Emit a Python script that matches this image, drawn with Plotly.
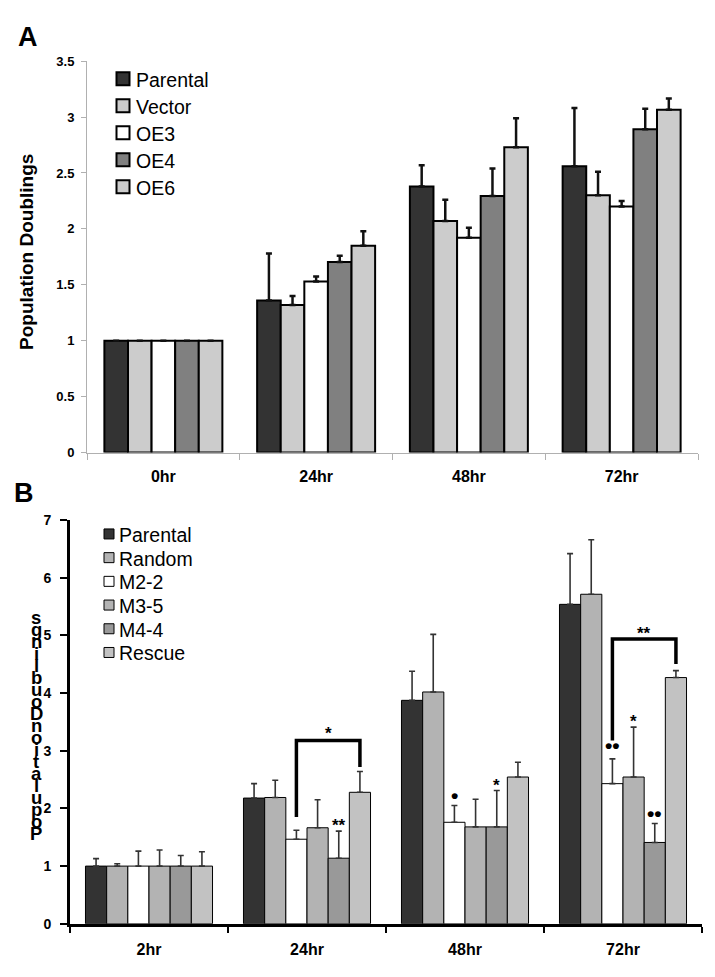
import plotly.graph_objects as go

# ---------------- Panel A data ----------------
times_a = ["0hr", "24hr", "48hr", "72hr"]
series_a = ["Parental", "Vector", "OE3", "OE4", "OE6"]
a_parental = [1.0, 1.36, 2.38, 2.56]
a_vector = [1.0, 1.32, 2.07, 2.30]
a_oe3 = [1.0, 1.53, 1.92, 2.20]
a_oe4 = [1.0, 1.705, 2.295, 2.89]
a_oe6 = [1.0, 1.85, 2.73, 3.066]
a_parental_err = [None, 0.42, 0.19, 0.52]
a_vector_err = [None, 0.08, 0.19, 0.21]
a_oe3_err = [None, 0.045, 0.09, 0.05]
a_oe4_err = [None, 0.055, 0.245, 0.185]
a_oe6_err = [None, 0.13, 0.26, 0.10]
colors_a = ["#333333", "#cccccc", "#ffffff", "#808080", "#cccccc"]

# ---------------- Panel B data ----------------
times_b = ["2hr", "24hr", "48hr", "72hr"]
series_b = ["Parental", "Random", "M2-2", "M3-5", "M4-4", "Rescue"]
b_parental = [1.0, 2.18, 3.875, 5.54]
b_random = [1.0, 2.19, 4.02, 5.715]
b_m22 = [1.0, 1.466, 1.76, 2.43]
b_m35 = [1.0, 1.665, 1.68, 2.545]
b_m44 = [1.0, 1.137, 1.68, 1.41]
b_rescue = [1.0, 2.28, 2.545, 4.27]
b_parental_err = [0.13, 0.25, 0.505, 0.88]
b_random_err = [0.04, 0.30, 1.0, 0.945]
b_m22_err = [0.26, 0.155, 0.29, 0.43]
b_m35_err = [0.28, 0.485, 0.48, 0.865]
b_m44_err = [0.185, 0.47, 0.63, 0.33]
b_rescue_err = [0.25, 0.36, 0.255, 0.12]
colors_b = ["#333333", "#b3b3b3", "#ffffff", "#b3b3b3", "#999999", "#c2c2c2"]

# significance brackets: (time index, from series, to series, left foot, top, right foot, label, label y)
brackets_b = [
    (1, 2, 5, 1.85, 3.18, 2.72, "*", 3.37),
    (3, 2, 5, 3.18, 4.94, 4.505, "**", 5.10),
]
# markers over bars: (time index, series index, y, text)
marks_b = [
    (1, 4, 1.78, "**"),
    (2, 2, 2.22, "\u2022"),
    (2, 4, 2.47, "*"),
    (3, 2, 3.085, "\u2022\u2022"),
    (3, 3, 3.57, "*"),
    (3, 4, 1.91, "\u2022\u2022"),
]

ytitle = "Population Doublings"

W, H = 715, 977
FONT = "Arial, Liberation Sans, sans-serif"


def px(x):
    return x / W


def py(y):
    return 1 - y / H


fig = go.Figure()

# Panel A bars
vals_a = [a_parental, a_vector, a_oe3, a_oe4, a_oe6]
errs_a = [a_parental_err, a_vector_err, a_oe3_err, a_oe4_err, a_oe6_err]
wa = 0.1545
off_a = -wa * len(series_a) / 2
for j, name in enumerate(series_a):
    fig.add_trace(go.Bar(
        x=times_a, y=vals_a[j], name=name, xaxis="x", yaxis="y",
        width=wa, offset=off_a + j * wa,
        marker=dict(color=colors_a[j], line=dict(color="#000000", width=2)),
        error_y=dict(type="data", array=errs_a[j], symmetric=False,
                     arrayminus=[0] * 4, color="#111111", thickness=2.5, width=3),
        showlegend=False, hoverinfo="skip",
    ))

# Panel B bars
vals_b = [b_parental, b_random, b_m22, b_m35, b_m44, b_rescue]
errs_b = [b_parental_err, b_random_err, b_m22_err, b_m35_err, b_m44_err, b_rescue_err]
wb = 0.134
off_b = -wb * len(series_b) / 2
for j, name in enumerate(series_b):
    fig.add_trace(go.Bar(
        x=times_b, y=vals_b[j], name=name, xaxis="x2", yaxis="y2",
        width=wb, offset=off_b + j * wb,
        marker=dict(color=colors_b[j], line=dict(color="#000000", width=1)),
        error_y=dict(type="data", array=errs_b[j], symmetric=False,
                     arrayminus=[0] * 4, color="#333333", thickness=1.6, width=3),
        showlegend=False, hoverinfo="skip",
    ))

shapes = []
annotations = []

# brackets
for (ti, s0, s1, yl, yt, yr, lab, ly) in brackets_b:
    x0 = ti + off_b + (s0 + 0.5) * wb
    x1 = ti + off_b + (s1 + 0.5) * wb
    shapes.append(dict(type="path", xref="x2", yref="y2",
                       path=f"M {x0},{yl} L {x0},{yt} L {x1},{yt} L {x1},{yr}",
                       line=dict(color="#000000", width=3.5)))
    annotations.append(dict(x=(x0 + x1) / 2, y=ly, xref="x2", yref="y2", text=lab,
                            showarrow=False, yshift=-4, yanchor="middle",
                            font=dict(family=FONT, size=17, color="#000000", weight="bold")))

for (ti, sj, yv, lab) in marks_b:
    xc = ti + off_b + (sj + 0.5) * wb
    star = "*" in lab
    annotations.append(dict(x=xc, y=yv, xref="x2", yref="y2", text=lab, showarrow=False,
                            yshift=(-4 if star else 0), yanchor="middle",
                            font=dict(family=FONT, size=(17 if star else 21),
                                      color="#000000", weight="bold")))

# Legend A (manual)
for j, name in enumerate(series_a):
    yc = 72 + j * 27.4
    shapes.append(dict(type="rect", xref="paper", yref="paper",
                       xsizemode="pixel", ysizemode="pixel",
                       xanchor=px(123), yanchor=py(yc), x0=-6.5, x1=6.5, y0=-6.5, y1=6.5,
                       fillcolor=colors_a[j], line=dict(color="#000000", width=2)))
    annotations.append(dict(x=px(134), y=py(yc + 1), xref="paper", yref="paper", text=name,
                            showarrow=False, xanchor="left", yanchor="middle",
                            font=dict(family=FONT, size=19.5, color="#000000")))

# Legend B (manual)
for j, name in enumerate(series_b):
    yc = 534.7 + j * 24.1
    shapes.append(dict(type="rect", xref="paper", yref="paper",
                       xsizemode="pixel", ysizemode="pixel",
                       xanchor=px(109), yanchor=py(yc), x0=-5, x1=5, y0=-5, y1=5,
                       fillcolor=colors_b[j], line=dict(color="#000000", width=1)))
    annotations.append(dict(x=px(117), y=py(yc + 1), xref="paper", yref="paper", text=name,
                            showarrow=False, xanchor="left", yanchor="middle",
                            font=dict(family=FONT, size=19.5, color="#000000")))

# Panel labels
annotations.append(dict(x=px(28), y=py(29), xref="paper", yref="paper", text="A",
                        showarrow=False, xanchor="center", yanchor="middle",
                        font=dict(family=FONT, size=27, color="#000000", weight="bold")))
annotations.append(dict(x=px(24), y=py(493), xref="paper", yref="paper", text="B",
                        showarrow=False, xanchor="center", yanchor="middle",
                        font=dict(family=FONT, size=27, color="#000000", weight="bold")))

# Y title A
annotations.append(dict(x=px(27), y=py(248), xref="paper", yref="paper", text=ytitle,
                        textangle=-90, showarrow=False, xanchor="center", yanchor="middle",
                        font=dict(family=FONT, size=19, color="#000000", weight="bold")))

# Y title B: stacked reversed letters
letters = list(ytitle.replace(" ", ""))[::-1]
for k, ch in enumerate(letters):
    annotations.append(dict(x=px(36), y=py(620 + k * 12.2), xref="paper", yref="paper", text=ch,
                            showarrow=False, xanchor="center", yanchor="middle",
                            font=dict(family=FONT, size=18.5, color="#000000", weight="bold")))

fig.update_layout(
    width=W, height=H,
    margin=dict(l=0, r=0, t=0, b=0),
    paper_bgcolor="#ffffff", plot_bgcolor="#ffffff",
    barmode="overlay",
    showlegend=False,
    font=dict(family=FONT, color="#000000"),
    xaxis=dict(domain=[px(87), px(698)], anchor="y", type="category",
               range=[-0.5, 3.5], showgrid=False, zeroline=False,
               showline=True, linecolor="#b0b0b0", linewidth=1,
               ticks="outside", tickson="boundaries", ticklen=6, tickcolor="#b0b0b0",
               ticklabelstandoff=9,
               tickfont=dict(family=FONT, size=16, color="#000000", weight="bold")),
    yaxis=dict(domain=[py(452), py(54)], anchor="x", range=[0, 3.5], dtick=0.5,
               showgrid=False, zeroline=False,
               showline=True, linecolor="#b0b0b0", linewidth=1,
               ticks="outside", ticklen=5, tickcolor="#b0b0b0",
               ticklabelstandoff=4,
               tickfont=dict(family=FONT, size=13, color="#000000", weight="bold")),
    xaxis2=dict(domain=[px(70), px(702)], anchor="y2", type="category",
                range=[-0.5, 3.5], showgrid=False, zeroline=False,
                showline=True, linecolor="#000000", linewidth=3,
                ticks="outside", tickson="boundaries", ticklen=6, tickwidth=2, tickcolor="#000000",
                ticklabelstandoff=9,
                tickfont=dict(family=FONT, size=16, color="#000000", weight="bold")),
    yaxis2=dict(domain=[py(931), py(520.7)], anchor="x2", range=[0, 7], dtick=1,
                showgrid=False, zeroline=False,
                showline=True, linecolor="#000000", linewidth=3,
                ticks="outside", ticklen=7, tickwidth=2, tickcolor="#000000",
                ticklabelstandoff=6,
                tickfont=dict(family=FONT, size=14, color="#000000", weight="bold")),
    shapes=shapes,
    annotations=annotations,
)

fig.write_html("out.html",
               config={"displayModeBar": False, "staticPlot": True},
               post_script="document.body.style.margin='0';document.body.style.padding='0';")
